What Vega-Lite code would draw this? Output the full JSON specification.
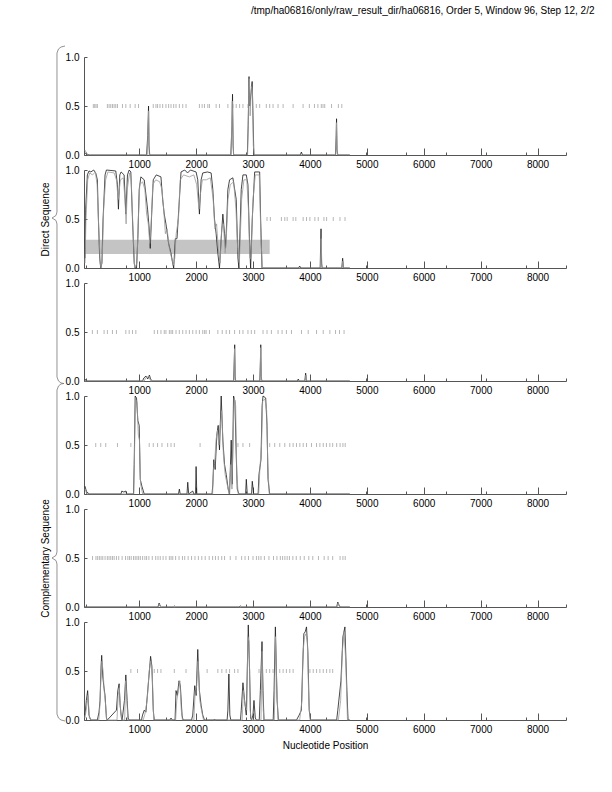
{
  "$schema": "https://vega.github.io/schema/vega-lite/v6.json",
  "padding": {"left": 40, "top": 6, "right": 5, "bottom": 5},
  "bounds": "flush",
  "spacing": 15,
  "title": {"text": "/tmp/ha06816/only/raw_result_dir/ha06816, Order 5, Window 96, Step 12, 2/2", "anchor": "end", "dx": 28, "offset": 28, "fontSize": 10, "fontWeight": "normal", "font": "Liberation Sans", "color": "#000000"},
  "config": {
    "view": {"stroke": null},
    "font": "Liberation Sans",
    "axis": {"labelFont": "Liberation Sans", "labelFontSize": 10, "labelColor": "#000000", "domainColor": "#555555", "tickColor": "#555555", "grid": false, "titleFont": "Liberation Sans", "titleFontSize": 10, "titleFontWeight": "normal", "titleColor": "#000000", "domainWidth": 1, "tickWidth": 1},
    "axisY": {"values": [0, 0.5, 1], "format": ".1f", "tickSize": -3, "labelPadding": 8, "orient": "left", "titlePadding": 15}
  },
  "datasets": {
    "shade": [{"panel": 2, "x1": 48, "x2": 3293, "y1": 0.142, "y2": 0.288}],
    "braces": [
      {"panel": 2, "i": 1, "bx": -304, "by": 2.265}, {"panel": 2, "i": 2, "bx": -374, "by": 2.255}, {"panel": 2, "i": 3, "bx": -418, "by": 2.235}, {"panel": 2, "i": 4, "bx": -445, "by": 2.194}, {"panel": 2, "i": 5, "bx": -445, "by": 0.571}, {"panel": 2, "i": 6, "bx": -462, "by": 0.536}, {"panel": 2, "i": 7, "bx": -532, "by": 0.51}, {"panel": 2, "i": 8, "bx": -462, "by": 0.485}, {"panel": 2, "i": 9, "bx": -445, "by": 0.449}, {"panel": 2, "i": 10, "bx": -445, "by": -1.112}, {"panel": 2, "i": 11, "bx": -418, "by": -1.153}, {"panel": 2, "i": 12, "bx": -374, "by": -1.173}, {"panel": 2, "i": 13, "bx": -321, "by": -1.179},
      {"panel": 5, "i": 1, "bx": -321, "by": 2.281}, {"panel": 5, "i": 2, "bx": -374, "by": 2.276}, {"panel": 5, "i": 3, "bx": -418, "by": 2.255}, {"panel": 5, "i": 4, "bx": -445, "by": 2.214}, {"panel": 5, "i": 5, "bx": -445, "by": 0.561}, {"panel": 5, "i": 6, "bx": -462, "by": 0.526}, {"panel": 5, "i": 7, "bx": -532, "by": 0.5}, {"panel": 5, "i": 8, "bx": -462, "by": 0.474}, {"panel": 5, "i": 9, "bx": -445, "by": 0.439}, {"panel": 5, "i": 10, "bx": -445, "by": -1.092}, {"panel": 5, "i": 11, "bx": -418, "by": -1.133}, {"panel": 5, "i": 12, "bx": -374, "by": -1.153}, {"panel": 5, "i": 13, "bx": -304, "by": -1.163}
    ],
    "stops": [
      {"panel":1,"pos":194},{"panel":1,"pos":218},{"panel":1,"pos":241},{"panel":1,"pos":265},{"panel":1,"pos":441},{"panel":1,"pos":471},{"panel":1,"pos":500},{"panel":1,"pos":530},{"panel":1,"pos":559},{"panel":1,"pos":588},{"panel":1,"pos":618},{"panel":1,"pos":706},{"panel":1,"pos":765},{"panel":1,"pos":841},{"panel":1,"pos":929},{"panel":1,"pos":988},{"panel":1,"pos":1247},{"panel":1,"pos":1294},{"panel":1,"pos":1323},{"panel":1,"pos":1365},{"panel":1,"pos":1412},{"panel":1,"pos":1470},{"panel":1,"pos":1517},{"panel":1,"pos":1559},{"panel":1,"pos":1606},{"panel":1,"pos":1647},{"panel":1,"pos":1706},{"panel":1,"pos":1765},{"panel":1,"pos":1823},{"panel":1,"pos":2058},{"panel":1,"pos":2106},{"panel":1,"pos":2147},{"panel":1,"pos":2206},{"panel":1,"pos":2235},{"panel":1,"pos":2352},{"panel":1,"pos":2411},{"panel":1,"pos":2558},{"panel":1,"pos":2646},{"panel":1,"pos":2705},{"panel":1,"pos":2764},{"panel":1,"pos":2823},{"panel":1,"pos":2911},{"panel":1,"pos":3058},{"panel":1,"pos":3117},{"panel":1,"pos":3234},{"panel":1,"pos":3293},{"panel":1,"pos":3352},{"panel":1,"pos":3440},{"panel":1,"pos":3529},{"panel":1,"pos":3705},{"panel":1,"pos":3880},{"panel":1,"pos":3990},{"panel":1,"pos":4080},{"panel":1,"pos":4140},{"panel":1,"pos":4200},{"panel":1,"pos":4230},{"panel":1,"pos":4260},{"panel":1,"pos":4380},{"panel":1,"pos":4500},{"panel":1,"pos":4560},
      {"panel":2,"pos":3246},{"panel":2,"pos":3305},{"panel":2,"pos":3499},{"panel":2,"pos":3558},{"panel":2,"pos":3600},{"panel":2,"pos":3705},{"panel":2,"pos":3752},{"panel":2,"pos":3881},{"panel":2,"pos":3940},{"panel":2,"pos":3999},{"panel":2,"pos":4087},{"panel":2,"pos":4146},{"panel":2,"pos":4246},{"panel":2,"pos":4293},{"panel":2,"pos":4410},{"panel":2,"pos":4528},{"panel":2,"pos":4617},
      {"panel":3,"pos":177},{"panel":3,"pos":265},{"panel":3,"pos":383},{"panel":3,"pos":441},{"panel":3,"pos":530},{"panel":3,"pos":600},{"panel":3,"pos":765},{"panel":3,"pos":824},{"panel":3,"pos":882},{"panel":3,"pos":941},{"panel":3,"pos":1265},{"panel":3,"pos":1323},{"panel":3,"pos":1382},{"panel":3,"pos":1440},{"panel":3,"pos":1470},{"panel":3,"pos":1530},{"panel":3,"pos":1560},{"panel":3,"pos":1588},{"panel":3,"pos":1647},{"panel":3,"pos":1705},{"panel":3,"pos":1765},{"panel":3,"pos":1823},{"panel":3,"pos":1882},{"panel":3,"pos":1941},{"panel":3,"pos":2000},{"panel":3,"pos":2058},{"panel":3,"pos":2117},{"panel":3,"pos":2150},{"panel":3,"pos":2176},{"panel":3,"pos":2235},{"panel":3,"pos":2382},{"panel":3,"pos":2459},{"panel":3,"pos":2529},{"panel":3,"pos":2588},{"panel":3,"pos":2676},{"panel":3,"pos":2764},{"panel":3,"pos":2823},{"panel":3,"pos":2911},{"panel":3,"pos":2970},{"panel":3,"pos":3029},{"panel":3,"pos":3176},{"panel":3,"pos":3246},{"panel":3,"pos":3323},{"panel":3,"pos":3440},{"panel":3,"pos":3511},{"panel":3,"pos":3587},{"panel":3,"pos":3676},{"panel":3,"pos":3852},{"panel":3,"pos":3970},{"panel":3,"pos":4116},{"panel":3,"pos":4234},{"panel":3,"pos":4350},{"panel":3,"pos":4450},{"panel":3,"pos":4520},{"panel":3,"pos":4600},
      {"panel":4,"pos":236},{"panel":4,"pos":324},{"panel":4,"pos":412},{"panel":4,"pos":618},{"panel":4,"pos":853},{"panel":4,"pos":1176},{"panel":4,"pos":1247},{"panel":4,"pos":1323},{"panel":4,"pos":1400},{"panel":4,"pos":1500},{"panel":4,"pos":1559},{"panel":4,"pos":1617},{"panel":4,"pos":2070},{"panel":4,"pos":2735},{"panel":4,"pos":2823},{"panel":4,"pos":2940},{"panel":4,"pos":3293},{"panel":4,"pos":3381},{"panel":4,"pos":3470},{"panel":4,"pos":3558},{"panel":4,"pos":3646},{"panel":4,"pos":3705},{"panel":4,"pos":3764},{"panel":4,"pos":3823},{"panel":4,"pos":3882},{"panel":4,"pos":3940},{"panel":4,"pos":4028},{"panel":4,"pos":4116},{"panel":4,"pos":4175},{"panel":4,"pos":4234},{"panel":4,"pos":4290},{"panel":4,"pos":4350},{"panel":4,"pos":4400},{"panel":4,"pos":4470},{"panel":4,"pos":4530},{"panel":4,"pos":4580},{"panel":4,"pos":4620},
      {"panel":5,"pos":180},{"panel":5,"pos":240},{"panel":5,"pos":270},{"panel":5,"pos":300},{"panel":5,"pos":330},{"panel":5,"pos":360},{"panel":5,"pos":400},{"panel":5,"pos":440},{"panel":5,"pos":470},{"panel":5,"pos":500},{"panel":5,"pos":530},{"panel":5,"pos":560},{"panel":5,"pos":600},{"panel":5,"pos":640},{"panel":5,"pos":700},{"panel":5,"pos":760},{"panel":5,"pos":800},{"panel":5,"pos":830},{"panel":5,"pos":860},{"panel":5,"pos":900},{"panel":5,"pos":930},{"panel":5,"pos":960},{"panel":5,"pos":990},{"panel":5,"pos":1020},{"panel":5,"pos":1060},{"panel":5,"pos":1100},{"panel":5,"pos":1130},{"panel":5,"pos":1170},{"panel":5,"pos":1230},{"panel":5,"pos":1290},{"panel":5,"pos":1330},{"panel":5,"pos":1370},{"panel":5,"pos":1420},{"panel":5,"pos":1470},{"panel":5,"pos":1530},{"panel":5,"pos":1560},{"panel":5,"pos":1590},{"panel":5,"pos":1640},{"panel":5,"pos":1700},{"panel":5,"pos":1760},{"panel":5,"pos":1800},{"panel":5,"pos":1860},{"panel":5,"pos":1920},{"panel":5,"pos":1980},{"panel":5,"pos":2040},{"panel":5,"pos":2100},{"panel":5,"pos":2160},{"panel":5,"pos":2230},{"panel":5,"pos":2290},{"panel":5,"pos":2340},{"panel":5,"pos":2390},{"panel":5,"pos":2450},{"panel":5,"pos":2500},{"panel":5,"pos":2600},{"panel":5,"pos":2700},{"panel":5,"pos":2800},{"panel":5,"pos":2860},{"panel":5,"pos":2920},{"panel":5,"pos":3000},{"panel":5,"pos":3060},{"panel":5,"pos":3100},{"panel":5,"pos":3140},{"panel":5,"pos":3200},{"panel":5,"pos":3280},{"panel":5,"pos":3360},{"panel":5,"pos":3420},{"panel":5,"pos":3480},{"panel":5,"pos":3520},{"panel":5,"pos":3560},{"panel":5,"pos":3600},{"panel":5,"pos":3640},{"panel":5,"pos":3700},{"panel":5,"pos":3760},{"panel":5,"pos":3830},{"panel":5,"pos":3900},{"panel":5,"pos":3980},{"panel":5,"pos":4050},{"panel":5,"pos":4150},{"panel":5,"pos":4250},{"panel":5,"pos":4320},{"panel":5,"pos":4400},{"panel":5,"pos":4530},{"panel":5,"pos":4580},{"panel":5,"pos":4620},
      {"panel":6,"pos":853},{"panel":6,"pos":970},{"panel":6,"pos":1265},{"panel":6,"pos":1323},{"panel":6,"pos":1382},{"panel":6,"pos":1617},{"panel":6,"pos":1823},{"panel":6,"pos":2194},{"panel":6,"pos":2382},{"panel":6,"pos":2452},{"panel":6,"pos":2529},{"panel":6,"pos":2588},{"panel":6,"pos":2676},{"panel":6,"pos":2735},{"panel":6,"pos":2940},{"panel":6,"pos":3105},{"panel":6,"pos":3158},{"panel":6,"pos":3234},{"panel":6,"pos":3293},{"panel":6,"pos":3352},{"panel":6,"pos":3470},{"panel":6,"pos":3529},{"panel":6,"pos":3587},{"panel":6,"pos":3646},{"panel":6,"pos":3705},{"panel":6,"pos":4000},{"panel":6,"pos":4058},{"panel":6,"pos":4117},{"panel":6,"pos":4175},{"panel":6,"pos":4234},{"panel":6,"pos":4293},{"panel":6,"pos":4350},{"panel":6,"pos":4400}
    ],
    "curves": [
      {"panel":1,"series":"a","pos":48,"value":0.02},{"panel":1,"series":"a","pos":80,"value":0.01},{"panel":1,"series":"a","pos":120,"value":0},{"panel":1,"series":"a","pos":1130,"value":0},{"panel":1,"series":"a","pos":1150,"value":0.2},{"panel":1,"series":"a","pos":1164,"value":0.5},{"panel":1,"series":"a","pos":1172,"value":0.1},{"panel":1,"series":"a","pos":1185,"value":0},{"panel":1,"series":"a","pos":2610,"value":0},{"panel":1,"series":"a","pos":2630,"value":0.3},{"panel":1,"series":"a","pos":2640,"value":0.62},{"panel":1,"series":"a","pos":2650,"value":0.1},{"panel":1,"series":"a","pos":2660,"value":0},{"panel":1,"series":"a","pos":2900,"value":0},{"panel":1,"series":"a","pos":2915,"value":0.3},{"panel":1,"series":"a","pos":2930,"value":0.8},{"panel":1,"series":"a","pos":2945,"value":0.5},{"panel":1,"series":"a","pos":2960,"value":0.6},{"panel":1,"series":"a","pos":2985,"value":0.75},{"panel":1,"series":"a","pos":3000,"value":0.4},{"panel":1,"series":"a","pos":3015,"value":0},{"panel":1,"series":"a","pos":3830,"value":0},{"panel":1,"series":"a","pos":3850,"value":0.03},{"panel":1,"series":"a","pos":3870,"value":0},{"panel":1,"series":"a","pos":4450,"value":0},{"panel":1,"series":"a","pos":4462,"value":0.2},{"panel":1,"series":"a","pos":4468,"value":0.37},{"panel":1,"series":"a","pos":4476,"value":0.05},{"panel":1,"series":"a","pos":4490,"value":0},{"panel":1,"series":"a","pos":4700,"value":0},
      {"panel":1,"series":"b","pos":48,"value":0.05},{"panel":1,"series":"b","pos":90,"value":0},{"panel":1,"series":"b","pos":1140,"value":0},{"panel":1,"series":"b","pos":1158,"value":0.3},{"panel":1,"series":"b","pos":1166,"value":0.45},{"panel":1,"series":"b","pos":1176,"value":0},{"panel":1,"series":"b","pos":2615,"value":0},{"panel":1,"series":"b","pos":2635,"value":0.55},{"panel":1,"series":"b","pos":2648,"value":0.2},{"panel":1,"series":"b","pos":2658,"value":0},{"panel":1,"series":"b","pos":2905,"value":0},{"panel":1,"series":"b","pos":2925,"value":0.6},{"panel":1,"series":"b","pos":2935,"value":0.78},{"panel":1,"series":"b","pos":2950,"value":0.4},{"panel":1,"series":"b","pos":2970,"value":0.7},{"panel":1,"series":"b","pos":2990,"value":0.65},{"panel":1,"series":"b","pos":3005,"value":0.1},{"panel":1,"series":"b","pos":3020,"value":0},{"panel":1,"series":"b","pos":4455,"value":0},{"panel":1,"series":"b","pos":4466,"value":0.33},{"panel":1,"series":"b","pos":4474,"value":0.1},{"panel":1,"series":"b","pos":4485,"value":0},{"panel":1,"series":"b","pos":4700,"value":0},
      {"panel":2,"series":"a","pos":48,"value":0.1},{"panel":2,"series":"a","pos":59,"value":0.6},{"panel":2,"series":"a","pos":89,"value":0.95},{"panel":2,"series":"a","pos":118,"value":0.99},{"panel":2,"series":"a","pos":150,"value":0.98},{"panel":2,"series":"a","pos":200,"value":1.0},{"panel":2,"series":"a","pos":236,"value":0.97},{"panel":2,"series":"a","pos":265,"value":0.9},{"panel":2,"series":"a","pos":283,"value":0.5},{"panel":2,"series":"a","pos":306,"value":0.1},{"panel":2,"series":"a","pos":324,"value":0},{"panel":2,"series":"a","pos":345,"value":0.05},{"panel":2,"series":"a","pos":365,"value":0.5},{"panel":2,"series":"a","pos":400,"value":0.95},{"panel":2,"series":"a","pos":424,"value":1.0},{"panel":2,"series":"a","pos":588,"value":0.99},{"panel":2,"series":"a","pos":618,"value":0.85},{"panel":2,"series":"a","pos":635,"value":0.6},{"panel":2,"series":"a","pos":659,"value":0.95},{"panel":2,"series":"a","pos":682,"value":0.98},{"panel":2,"series":"a","pos":735,"value":0.95},{"panel":2,"series":"a","pos":765,"value":0.55},{"panel":2,"series":"a","pos":794,"value":0.95},{"panel":2,"series":"a","pos":824,"value":1.0},{"panel":2,"series":"a","pos":853,"value":0.98},{"panel":2,"series":"a","pos":882,"value":0.5},{"panel":2,"series":"a","pos":912,"value":0.05},{"panel":2,"series":"a","pos":929,"value":0},{"panel":2,"series":"a","pos":953,"value":0},{"panel":2,"series":"a","pos":976,"value":0.3},{"panel":2,"series":"a","pos":1000,"value":0.8},{"panel":2,"series":"a","pos":1029,"value":0.93},{"panel":2,"series":"a","pos":1088,"value":0.9},{"panel":2,"series":"a","pos":1118,"value":0.75},{"panel":2,"series":"a","pos":1147,"value":0.6},{"panel":2,"series":"a","pos":1176,"value":0.4},{"panel":2,"series":"a","pos":1194,"value":0.2},{"panel":2,"series":"a","pos":1223,"value":0.6},{"panel":2,"series":"a","pos":1247,"value":0.9},{"panel":2,"series":"a","pos":1300,"value":0.95},{"panel":2,"series":"a","pos":1382,"value":0.93},{"panel":2,"series":"a","pos":1412,"value":0.7},{"panel":2,"series":"a","pos":1440,"value":0.55},{"panel":2,"series":"a","pos":1470,"value":0.45},{"panel":2,"series":"a","pos":1517,"value":0.25},{"panel":2,"series":"a","pos":1559,"value":0.15},{"panel":2,"series":"a","pos":1588,"value":0.05},{"panel":2,"series":"a","pos":1606,"value":0},{"panel":2,"series":"a","pos":1635,"value":0.3},{"panel":2,"series":"a","pos":1664,"value":0.3},{"panel":2,"series":"a","pos":1706,"value":0.7},{"panel":2,"series":"a","pos":1735,"value":0.98},{"panel":2,"series":"a","pos":1800,"value":1.0},{"panel":2,"series":"a","pos":1850,"value":0.97},{"panel":2,"series":"a","pos":1900,"value":1.0},{"panel":2,"series":"a","pos":2000,"value":0.98},{"panel":2,"series":"a","pos":2029,"value":0.9},{"panel":2,"series":"a","pos":2058,"value":0.55},{"panel":2,"series":"a","pos":2088,"value":0.9},{"panel":2,"series":"a","pos":2117,"value":0.97},{"panel":2,"series":"a","pos":2200,"value":0.98},{"panel":2,"series":"a","pos":2264,"value":0.97},{"panel":2,"series":"a","pos":2294,"value":0.8},{"panel":2,"series":"a","pos":2323,"value":0.5},{"panel":2,"series":"a","pos":2352,"value":0.35},{"panel":2,"series":"a","pos":2382,"value":0.15},{"panel":2,"series":"a","pos":2411,"value":0},{"panel":2,"series":"a","pos":2441,"value":0.3},{"panel":2,"series":"a","pos":2470,"value":0.55},{"panel":2,"series":"a","pos":2500,"value":0.35},{"panel":2,"series":"a","pos":2517,"value":0.2},{"panel":2,"series":"a","pos":2540,"value":0.5},{"panel":2,"series":"a","pos":2558,"value":0.8},{"panel":2,"series":"a","pos":2588,"value":0.9},{"panel":2,"series":"a","pos":2646,"value":0.92},{"panel":2,"series":"a","pos":2705,"value":0.7},{"panel":2,"series":"a","pos":2735,"value":0.1},{"panel":2,"series":"a","pos":2752,"value":0},{"panel":2,"series":"a","pos":2793,"value":0.8},{"panel":2,"series":"a","pos":2823,"value":0.95},{"panel":2,"series":"a","pos":2882,"value":0.95},{"panel":2,"series":"a","pos":2911,"value":0.85},{"panel":2,"series":"a","pos":2940,"value":0.25},{"panel":2,"series":"a","pos":2958,"value":0},{"panel":2,"series":"a","pos":2987,"value":0.5},{"panel":2,"series":"a","pos":3029,"value":0.98},{"panel":2,"series":"a","pos":3117,"value":0.98},{"panel":2,"series":"a","pos":3134,"value":0.5},{"panel":2,"series":"a","pos":3158,"value":0},{"panel":2,"series":"a","pos":3800,"value":0},{"panel":2,"series":"a","pos":3820,"value":0.02},{"panel":2,"series":"a","pos":3840,"value":0},{"panel":2,"series":"a","pos":4180,"value":0},{"panel":2,"series":"a","pos":4195,"value":0.4},{"panel":2,"series":"a","pos":4205,"value":0.05},{"panel":2,"series":"a","pos":4215,"value":0},{"panel":2,"series":"a","pos":4560,"value":0},{"panel":2,"series":"a","pos":4575,"value":0.1},{"panel":2,"series":"a","pos":4590,"value":0},{"panel":2,"series":"a","pos":4700,"value":0},
      {"panel":2,"series":"b","pos":48,"value":0.05},{"panel":2,"series":"b","pos":65,"value":0.5},{"panel":2,"series":"b","pos":95,"value":0.9},{"panel":2,"series":"b","pos":130,"value":0.97},{"panel":2,"series":"b","pos":180,"value":0.95},{"panel":2,"series":"b","pos":230,"value":0.98},{"panel":2,"series":"b","pos":260,"value":0.85},{"panel":2,"series":"b","pos":290,"value":0.4},{"panel":2,"series":"b","pos":315,"value":0.05},{"panel":2,"series":"b","pos":330,"value":0},{"panel":2,"series":"b","pos":350,"value":0.1},{"panel":2,"series":"b","pos":375,"value":0.6},{"panel":2,"series":"b","pos":410,"value":0.9},{"panel":2,"series":"b","pos":450,"value":0.98},{"panel":2,"series":"b","pos":560,"value":0.97},{"panel":2,"series":"b","pos":600,"value":0.9},{"panel":2,"series":"b","pos":630,"value":0.7},{"panel":2,"series":"b","pos":650,"value":0.8},{"panel":2,"series":"b","pos":670,"value":0.9},{"panel":2,"series":"b","pos":720,"value":0.92},{"panel":2,"series":"b","pos":750,"value":0.7},{"panel":2,"series":"b","pos":770,"value":0.45},{"panel":2,"series":"b","pos":790,"value":0.8},{"panel":2,"series":"b","pos":830,"value":0.97},{"panel":2,"series":"b","pos":860,"value":0.9},{"panel":2,"series":"b","pos":890,"value":0.4},{"panel":2,"series":"b","pos":920,"value":0},{"panel":2,"series":"b","pos":960,"value":0.05},{"panel":2,"series":"b","pos":985,"value":0.5},{"panel":2,"series":"b","pos":1010,"value":0.85},{"panel":2,"series":"b","pos":1060,"value":0.88},{"panel":2,"series":"b","pos":1100,"value":0.8},{"panel":2,"series":"b","pos":1130,"value":0.55},{"panel":2,"series":"b","pos":1160,"value":0.45},{"panel":2,"series":"b","pos":1185,"value":0.25},{"panel":2,"series":"b","pos":1210,"value":0.45},{"panel":2,"series":"b","pos":1240,"value":0.85},{"panel":2,"series":"b","pos":1290,"value":0.9},{"panel":2,"series":"b","pos":1360,"value":0.88},{"panel":2,"series":"b","pos":1400,"value":0.8},{"panel":2,"series":"b","pos":1430,"value":0.6},{"panel":2,"series":"b","pos":1460,"value":0.35},{"panel":2,"series":"b","pos":1490,"value":0.4},{"panel":2,"series":"b","pos":1530,"value":0.2},{"panel":2,"series":"b","pos":1570,"value":0.1},{"panel":2,"series":"b","pos":1600,"value":0.03},{"panel":2,"series":"b","pos":1625,"value":0.1},{"panel":2,"series":"b","pos":1650,"value":0.35},{"panel":2,"series":"b","pos":1690,"value":0.5},{"panel":2,"series":"b","pos":1720,"value":0.9},{"panel":2,"series":"b","pos":1780,"value":0.95},{"panel":2,"series":"b","pos":1880,"value":0.93},{"panel":2,"series":"b","pos":1960,"value":0.95},{"panel":2,"series":"b","pos":2010,"value":0.85},{"panel":2,"series":"b","pos":2050,"value":0.6},{"panel":2,"series":"b","pos":2075,"value":0.75},{"panel":2,"series":"b","pos":2110,"value":0.9},{"panel":2,"series":"b","pos":2180,"value":0.9},{"panel":2,"series":"b","pos":2250,"value":0.92},{"panel":2,"series":"b","pos":2300,"value":0.7},{"panel":2,"series":"b","pos":2330,"value":0.4},{"panel":2,"series":"b","pos":2360,"value":0.45},{"panel":2,"series":"b","pos":2390,"value":0.2},{"panel":2,"series":"b","pos":2420,"value":0.05},{"panel":2,"series":"b","pos":2450,"value":0.4},{"panel":2,"series":"b","pos":2480,"value":0.45},{"panel":2,"series":"b","pos":2510,"value":0.15},{"panel":2,"series":"b","pos":2530,"value":0.3},{"panel":2,"series":"b","pos":2560,"value":0.7},{"panel":2,"series":"b","pos":2600,"value":0.85},{"panel":2,"series":"b","pos":2660,"value":0.88},{"panel":2,"series":"b","pos":2700,"value":0.6},{"panel":2,"series":"b","pos":2730,"value":0.2},{"panel":2,"series":"b","pos":2760,"value":0.05},{"panel":2,"series":"b","pos":2800,"value":0.7},{"panel":2,"series":"b","pos":2840,"value":0.9},{"panel":2,"series":"b","pos":2890,"value":0.9},{"panel":2,"series":"b","pos":2920,"value":0.6},{"panel":2,"series":"b","pos":2945,"value":0.1},{"panel":2,"series":"b","pos":2965,"value":0.1},{"panel":2,"series":"b","pos":3000,"value":0.7},{"panel":2,"series":"b","pos":3040,"value":0.95},{"panel":2,"series":"b","pos":3110,"value":0.95},{"panel":2,"series":"b","pos":3140,"value":0.3},{"panel":2,"series":"b","pos":3165,"value":0},{"panel":2,"series":"b","pos":4185,"value":0},{"panel":2,"series":"b","pos":4198,"value":0.3},{"panel":2,"series":"b","pos":4210,"value":0},{"panel":2,"series":"b","pos":4565,"value":0},{"panel":2,"series":"b","pos":4578,"value":0.07},{"panel":2,"series":"b","pos":4592,"value":0},{"panel":2,"series":"b","pos":4700,"value":0},
      {"panel":3,"series":"a","pos":48,"value":0.02},{"panel":3,"series":"a","pos":70,"value":0},{"panel":3,"series":"a","pos":1060,"value":0},{"panel":3,"series":"a","pos":1080,"value":0.03},{"panel":3,"series":"a","pos":1120,"value":0.05},{"panel":3,"series":"a","pos":1150,"value":0.02},{"panel":3,"series":"a","pos":1180,"value":0.06},{"panel":3,"series":"a","pos":1200,"value":0.02},{"panel":3,"series":"a","pos":1230,"value":0},{"panel":3,"series":"a","pos":2660,"value":0},{"panel":3,"series":"a","pos":2670,"value":0.2},{"panel":3,"series":"a","pos":2678,"value":0.37},{"panel":3,"series":"a","pos":2686,"value":0.05},{"panel":3,"series":"a","pos":2695,"value":0},{"panel":3,"series":"a","pos":3120,"value":0},{"panel":3,"series":"a","pos":3130,"value":0.2},{"panel":3,"series":"a","pos":3136,"value":0.37},{"panel":3,"series":"a","pos":3144,"value":0.05},{"panel":3,"series":"a","pos":3155,"value":0},{"panel":3,"series":"a","pos":3780,"value":0},{"panel":3,"series":"a","pos":3795,"value":0.02},{"panel":3,"series":"a","pos":3810,"value":0},{"panel":3,"series":"a","pos":3910,"value":0},{"panel":3,"series":"a","pos":3925,"value":0.08},{"panel":3,"series":"a","pos":3940,"value":0},{"panel":3,"series":"a","pos":4700,"value":0},
      {"panel":3,"series":"b","pos":48,"value":0},{"panel":3,"series":"b","pos":1090,"value":0},{"panel":3,"series":"b","pos":1110,"value":0.03},{"panel":3,"series":"b","pos":1140,"value":0.04},{"panel":3,"series":"b","pos":1170,"value":0.05},{"panel":3,"series":"b","pos":1200,"value":0},{"panel":3,"series":"b","pos":2665,"value":0},{"panel":3,"series":"b","pos":2676,"value":0.33},{"panel":3,"series":"b","pos":2690,"value":0},{"panel":3,"series":"b","pos":3125,"value":0},{"panel":3,"series":"b","pos":3134,"value":0.34},{"panel":3,"series":"b","pos":3150,"value":0},{"panel":3,"series":"b","pos":3915,"value":0},{"panel":3,"series":"b","pos":3930,"value":0.06},{"panel":3,"series":"b","pos":3945,"value":0},{"panel":3,"series":"b","pos":4700,"value":0},
      {"panel":4,"series":"a","pos":48,"value":0.08},{"panel":4,"series":"a","pos":70,"value":0.03},{"panel":4,"series":"a","pos":89,"value":0.02},{"panel":4,"series":"a","pos":110,"value":0},{"panel":4,"series":"a","pos":680,"value":0},{"panel":4,"series":"a","pos":694,"value":0.03},{"panel":4,"series":"a","pos":730,"value":0.02},{"panel":4,"series":"a","pos":765,"value":0.03},{"panel":4,"series":"a","pos":780,"value":0},{"panel":4,"series":"a","pos":900,"value":0},{"panel":4,"series":"a","pos":912,"value":0.3},{"panel":4,"series":"a","pos":929,"value":1.0},{"panel":4,"series":"a","pos":953,"value":0.98},{"panel":4,"series":"a","pos":976,"value":0.75},{"panel":4,"series":"a","pos":1000,"value":0.7},{"panel":4,"series":"a","pos":1018,"value":0.15},{"panel":4,"series":"a","pos":1047,"value":0.08},{"panel":4,"series":"a","pos":1088,"value":0},{"panel":4,"series":"a","pos":1690,"value":0},{"panel":4,"series":"a","pos":1706,"value":0.05},{"panel":4,"series":"a","pos":1720,"value":0},{"panel":4,"series":"a","pos":1840,"value":0},{"panel":4,"series":"a","pos":1853,"value":0.12},{"panel":4,"series":"a","pos":1870,"value":0},{"panel":4,"series":"a","pos":1941,"value":0.03},{"panel":4,"series":"a","pos":1960,"value":0},{"panel":4,"series":"a","pos":1990,"value":0},{"panel":4,"series":"a","pos":2000,"value":0.28},{"panel":4,"series":"a","pos":2012,"value":0},{"panel":4,"series":"a","pos":2280,"value":0},{"panel":4,"series":"a","pos":2294,"value":0.1},{"panel":4,"series":"a","pos":2311,"value":0.35},{"panel":4,"series":"a","pos":2335,"value":0.25},{"panel":4,"series":"a","pos":2364,"value":0.6},{"panel":4,"series":"a","pos":2388,"value":0.7},{"panel":4,"series":"a","pos":2411,"value":0.45},{"panel":4,"series":"a","pos":2441,"value":1.0},{"panel":4,"series":"a","pos":2470,"value":0.55},{"panel":4,"series":"a","pos":2500,"value":0.3},{"panel":4,"series":"a","pos":2529,"value":0.2},{"panel":4,"series":"a","pos":2564,"value":0.05},{"panel":4,"series":"a","pos":2588,"value":0},{"panel":4,"series":"a","pos":2617,"value":0.55},{"panel":4,"series":"a","pos":2635,"value":0.1},{"panel":4,"series":"a","pos":2658,"value":1.0},{"panel":4,"series":"a","pos":2682,"value":0.95},{"panel":4,"series":"a","pos":2705,"value":0.4},{"panel":4,"series":"a","pos":2723,"value":0.05},{"panel":4,"series":"a","pos":2752,"value":0},{"panel":4,"series":"a","pos":2870,"value":0},{"panel":4,"series":"a","pos":2882,"value":0.15},{"panel":4,"series":"a","pos":2899,"value":0},{"panel":4,"series":"a","pos":2975,"value":0},{"panel":4,"series":"a","pos":2987,"value":0.13},{"panel":4,"series":"a","pos":3011,"value":0},{"panel":4,"series":"a","pos":3090,"value":0},{"panel":4,"series":"a","pos":3105,"value":0.2},{"panel":4,"series":"a","pos":3140,"value":0.35},{"panel":4,"series":"a","pos":3160,"value":0.9},{"panel":4,"series":"a","pos":3176,"value":1.0},{"panel":4,"series":"a","pos":3223,"value":0.98},{"panel":4,"series":"a","pos":3246,"value":0.7},{"panel":4,"series":"a","pos":3264,"value":0.15},{"panel":4,"series":"a","pos":3293,"value":0},{"panel":4,"series":"a","pos":4700,"value":0},
      {"panel":4,"series":"b","pos":48,"value":0.05},{"panel":4,"series":"b","pos":80,"value":0},{"panel":4,"series":"b","pos":905,"value":0},{"panel":4,"series":"b","pos":920,"value":0.5},{"panel":4,"series":"b","pos":935,"value":0.95},{"panel":4,"series":"b","pos":960,"value":0.95},{"panel":4,"series":"b","pos":985,"value":0.6},{"panel":4,"series":"b","pos":1005,"value":0.55},{"panel":4,"series":"b","pos":1025,"value":0.1},{"panel":4,"series":"b","pos":1060,"value":0},{"panel":4,"series":"b","pos":2290,"value":0},{"panel":4,"series":"b","pos":2305,"value":0.25},{"panel":4,"series":"b","pos":2325,"value":0.3},{"panel":4,"series":"b","pos":2350,"value":0.55},{"panel":4,"series":"b","pos":2375,"value":0.65},{"panel":4,"series":"b","pos":2400,"value":0.5},{"panel":4,"series":"b","pos":2425,"value":0.7},{"panel":4,"series":"b","pos":2450,"value":0.85},{"panel":4,"series":"b","pos":2480,"value":0.4},{"panel":4,"series":"b","pos":2510,"value":0.2},{"panel":4,"series":"b","pos":2545,"value":0.1},{"panel":4,"series":"b","pos":2580,"value":0},{"panel":4,"series":"b","pos":2610,"value":0.3},{"panel":4,"series":"b","pos":2630,"value":0.05},{"panel":4,"series":"b","pos":2650,"value":0.6},{"panel":4,"series":"b","pos":2670,"value":0.98},{"panel":4,"series":"b","pos":2695,"value":0.9},{"panel":4,"series":"b","pos":2715,"value":0.2},{"panel":4,"series":"b","pos":2740,"value":0},{"panel":4,"series":"b","pos":3100,"value":0},{"panel":4,"series":"b","pos":3120,"value":0.25},{"panel":4,"series":"b","pos":3150,"value":0.5},{"panel":4,"series":"b","pos":3170,"value":0.95},{"panel":4,"series":"b","pos":3210,"value":0.97},{"panel":4,"series":"b","pos":3240,"value":0.85},{"panel":4,"series":"b","pos":3260,"value":0.3},{"panel":4,"series":"b","pos":3285,"value":0},{"panel":4,"series":"b","pos":4700,"value":0},
      {"panel":5,"series":"a","pos":48,"value":0},{"panel":5,"series":"a","pos":1330,"value":0},{"panel":5,"series":"a","pos":1350,"value":0.04},{"panel":5,"series":"a","pos":1370,"value":0.01},{"panel":5,"series":"a","pos":1390,"value":0},{"panel":5,"series":"a","pos":1600,"value":0},{"panel":5,"series":"a","pos":1620,"value":0.01},{"panel":5,"series":"a","pos":1640,"value":0},{"panel":5,"series":"a","pos":2750,"value":0},{"panel":5,"series":"a","pos":2780,"value":0.01},{"panel":5,"series":"a","pos":2800,"value":0},{"panel":5,"series":"a","pos":4470,"value":0},{"panel":5,"series":"a","pos":4490,"value":0.05},{"panel":5,"series":"a","pos":4510,"value":0.02},{"panel":5,"series":"a","pos":4530,"value":0},{"panel":5,"series":"a","pos":4700,"value":0},
      {"panel":5,"series":"b","pos":48,"value":0},{"panel":5,"series":"b","pos":1340,"value":0},{"panel":5,"series":"b","pos":1355,"value":0.03},{"panel":5,"series":"b","pos":1375,"value":0},{"panel":5,"series":"b","pos":4475,"value":0},{"panel":5,"series":"b","pos":4495,"value":0.04},{"panel":5,"series":"b","pos":4520,"value":0},{"panel":5,"series":"b","pos":4700,"value":0},
      {"panel":6,"series":"a","pos":48,"value":0.05},{"panel":6,"series":"a","pos":71,"value":0.2},{"panel":6,"series":"a","pos":94,"value":0.3},{"panel":6,"series":"a","pos":118,"value":0.05},{"panel":6,"series":"a","pos":147,"value":0},{"panel":6,"series":"a","pos":265,"value":0},{"panel":6,"series":"a","pos":294,"value":0.08},{"panel":6,"series":"a","pos":312,"value":0.2},{"panel":6,"series":"a","pos":330,"value":0.55},{"panel":6,"series":"a","pos":341,"value":0.66},{"panel":6,"series":"a","pos":359,"value":0.45},{"panel":6,"series":"a","pos":377,"value":0.35},{"panel":6,"series":"a","pos":400,"value":0.25},{"panel":6,"series":"a","pos":424,"value":0.02},{"panel":6,"series":"a","pos":440,"value":0},{"panel":6,"series":"a","pos":600,"value":0.1},{"panel":6,"series":"a","pos":624,"value":0.3},{"panel":6,"series":"a","pos":647,"value":0.37},{"panel":6,"series":"a","pos":665,"value":0.15},{"panel":6,"series":"a","pos":688,"value":0.02},{"panel":6,"series":"a","pos":700,"value":0},{"panel":6,"series":"a","pos":741,"value":0.2},{"panel":6,"series":"a","pos":765,"value":0.46},{"panel":6,"series":"a","pos":788,"value":0.2},{"panel":6,"series":"a","pos":806,"value":0.02},{"panel":6,"series":"a","pos":820,"value":0},{"panel":6,"series":"a","pos":1040,"value":0},{"panel":6,"series":"a","pos":1059,"value":0.05},{"panel":6,"series":"a","pos":1088,"value":0.1},{"panel":6,"series":"a","pos":1118,"value":0.08},{"panel":6,"series":"a","pos":1165,"value":0.4},{"panel":6,"series":"a","pos":1200,"value":0.65},{"panel":6,"series":"a","pos":1223,"value":0.55},{"panel":6,"series":"a","pos":1247,"value":0.1},{"panel":6,"series":"a","pos":1265,"value":0},{"panel":6,"series":"a","pos":1540,"value":0},{"panel":6,"series":"a","pos":1559,"value":0.02},{"panel":6,"series":"a","pos":1580,"value":0},{"panel":6,"series":"a","pos":1630,"value":0},{"panel":6,"series":"a","pos":1647,"value":0.3},{"panel":6,"series":"a","pos":1670,"value":0.25},{"panel":6,"series":"a","pos":1700,"value":0.4},{"panel":6,"series":"a","pos":1723,"value":0.35},{"panel":6,"series":"a","pos":1753,"value":0.05},{"panel":6,"series":"a","pos":1770,"value":0},{"panel":6,"series":"a","pos":1920,"value":0},{"panel":6,"series":"a","pos":1941,"value":0.05},{"panel":6,"series":"a","pos":1976,"value":0.35},{"panel":6,"series":"a","pos":2000,"value":0.25},{"panel":6,"series":"a","pos":2029,"value":0.72},{"panel":6,"series":"a","pos":2058,"value":0.3},{"panel":6,"series":"a","pos":2088,"value":0.15},{"panel":6,"series":"a","pos":2117,"value":0.05},{"panel":6,"series":"a","pos":2147,"value":0},{"panel":6,"series":"a","pos":2310,"value":0},{"panel":6,"series":"a","pos":2323,"value":0.01},{"panel":6,"series":"a","pos":2340,"value":0},{"panel":6,"series":"a","pos":2545,"value":0},{"panel":6,"series":"a","pos":2558,"value":0.1},{"panel":6,"series":"a","pos":2576,"value":0.47},{"panel":6,"series":"a","pos":2593,"value":0.05},{"panel":6,"series":"a","pos":2610,"value":0},{"panel":6,"series":"a","pos":2780,"value":0},{"panel":6,"series":"a","pos":2793,"value":0.1},{"panel":6,"series":"a","pos":2823,"value":0.38},{"panel":6,"series":"a","pos":2852,"value":0.2},{"panel":6,"series":"a","pos":2882,"value":0.05},{"panel":6,"series":"a","pos":2899,"value":0.5},{"panel":6,"series":"a","pos":2917,"value":0.97},{"panel":6,"series":"a","pos":2940,"value":0.5},{"panel":6,"series":"a","pos":2958,"value":0.02},{"panel":6,"series":"a","pos":2975,"value":0},{"panel":6,"series":"a","pos":2999,"value":0.05},{"panel":6,"series":"a","pos":3017,"value":0.2},{"panel":6,"series":"a","pos":3040,"value":0.02},{"panel":6,"series":"a","pos":3060,"value":0},{"panel":6,"series":"a","pos":3110,"value":0},{"panel":6,"series":"a","pos":3129,"value":0.3},{"panel":6,"series":"a","pos":3158,"value":0.8},{"panel":6,"series":"a","pos":3176,"value":0.3},{"panel":6,"series":"a","pos":3193,"value":0},{"panel":6,"series":"a","pos":3355,"value":0},{"panel":6,"series":"a","pos":3370,"value":0.3},{"panel":6,"series":"a","pos":3393,"value":0.95},{"panel":6,"series":"a","pos":3423,"value":0.2},{"panel":6,"series":"a","pos":3446,"value":0},{"panel":6,"series":"a","pos":3764,"value":0},{"panel":6,"series":"a","pos":3811,"value":0.05},{"panel":6,"series":"a","pos":3850,"value":0.1},{"panel":6,"series":"a","pos":3870,"value":0.5},{"panel":6,"series":"a","pos":3893,"value":0.88},{"panel":6,"series":"a","pos":3917,"value":0.9},{"panel":6,"series":"a","pos":3940,"value":0.95},{"panel":6,"series":"a","pos":3964,"value":0.7},{"panel":6,"series":"a","pos":3987,"value":0.1},{"panel":6,"series":"a","pos":4011,"value":0},{"panel":6,"series":"a","pos":4470,"value":0},{"panel":6,"series":"a","pos":4490,"value":0.1},{"panel":6,"series":"a","pos":4545,"value":0.4},{"panel":6,"series":"a","pos":4580,"value":0.85},{"panel":6,"series":"a","pos":4615,"value":0.95},{"panel":6,"series":"a","pos":4650,"value":0.3},{"panel":6,"series":"a","pos":4670,"value":0},{"panel":6,"series":"a","pos":4700,"value":0},
      {"panel":6,"series":"b","pos":48,"value":0.02},{"panel":6,"series":"b","pos":80,"value":0.15},{"panel":6,"series":"b","pos":100,"value":0.25},{"panel":6,"series":"b","pos":125,"value":0.02},{"panel":6,"series":"b","pos":150,"value":0},{"panel":6,"series":"b","pos":290,"value":0},{"panel":6,"series":"b","pos":310,"value":0.15},{"panel":6,"series":"b","pos":325,"value":0.4},{"panel":6,"series":"b","pos":345,"value":0.6},{"panel":6,"series":"b","pos":365,"value":0.5},{"panel":6,"series":"b","pos":385,"value":0.3},{"panel":6,"series":"b","pos":410,"value":0.15},{"panel":6,"series":"b","pos":430,"value":0},{"panel":6,"series":"b","pos":610,"value":0},{"panel":6,"series":"b","pos":630,"value":0.25},{"panel":6,"series":"b","pos":650,"value":0.33},{"panel":6,"series":"b","pos":675,"value":0.08},{"panel":6,"series":"b","pos":700,"value":0},{"panel":6,"series":"b","pos":745,"value":0},{"panel":6,"series":"b","pos":760,"value":0.4},{"panel":6,"series":"b","pos":775,"value":0.3},{"panel":6,"series":"b","pos":800,"value":0},{"panel":6,"series":"b","pos":1070,"value":0},{"panel":6,"series":"b","pos":1100,"value":0.06},{"panel":6,"series":"b","pos":1140,"value":0.2},{"panel":6,"series":"b","pos":1175,"value":0.5},{"panel":6,"series":"b","pos":1205,"value":0.6},{"panel":6,"series":"b","pos":1230,"value":0.45},{"panel":6,"series":"b","pos":1255,"value":0},{"panel":6,"series":"b","pos":1640,"value":0},{"panel":6,"series":"b","pos":1660,"value":0.2},{"panel":6,"series":"b","pos":1690,"value":0.3},{"panel":6,"series":"b","pos":1715,"value":0.4},{"panel":6,"series":"b","pos":1740,"value":0.1},{"panel":6,"series":"b","pos":1760,"value":0},{"panel":6,"series":"b","pos":1960,"value":0},{"panel":6,"series":"b","pos":1985,"value":0.3},{"panel":6,"series":"b","pos":2010,"value":0.35},{"panel":6,"series":"b","pos":2035,"value":0.6},{"panel":6,"series":"b","pos":2065,"value":0.2},{"panel":6,"series":"b","pos":2095,"value":0.1},{"panel":6,"series":"b","pos":2130,"value":0},{"panel":6,"series":"b","pos":2810,"value":0},{"panel":6,"series":"b","pos":2830,"value":0.3},{"panel":6,"series":"b","pos":2860,"value":0.15},{"panel":6,"series":"b","pos":2890,"value":0.1},{"panel":6,"series":"b","pos":2910,"value":0.85},{"panel":6,"series":"b","pos":2930,"value":0.8},{"panel":6,"series":"b","pos":2950,"value":0.1},{"panel":6,"series":"b","pos":2970,"value":0},{"panel":6,"series":"b","pos":3140,"value":0},{"panel":6,"series":"b","pos":3160,"value":0.7},{"panel":6,"series":"b","pos":3180,"value":0.1},{"panel":6,"series":"b","pos":3195,"value":0},{"panel":6,"series":"b","pos":3375,"value":0},{"panel":6,"series":"b","pos":3395,"value":0.85},{"panel":6,"series":"b","pos":3415,"value":0.4},{"panel":6,"series":"b","pos":3440,"value":0},{"panel":6,"series":"b","pos":3820,"value":0},{"panel":6,"series":"b","pos":3860,"value":0.2},{"panel":6,"series":"b","pos":3880,"value":0.7},{"panel":6,"series":"b","pos":3905,"value":0.85},{"panel":6,"series":"b","pos":3930,"value":0.88},{"panel":6,"series":"b","pos":3955,"value":0.8},{"panel":6,"series":"b","pos":3980,"value":0.2},{"panel":6,"series":"b","pos":4005,"value":0},{"panel":6,"series":"b","pos":4500,"value":0},{"panel":6,"series":"b","pos":4540,"value":0.2},{"panel":6,"series":"b","pos":4570,"value":0.7},{"panel":6,"series":"b","pos":4600,"value":0.9},{"panel":6,"series":"b","pos":4630,"value":0.6},{"panel":6,"series":"b","pos":4660,"value":0},{"panel":6,"series":"b","pos":4700,"value":0}
    ]
  },
  "vconcat": [
    {
      "width": 482, "height": 98,
      "layer": [
        {"data": {"name": "stops"}, "transform": [{"filter": "datum.panel == 1"}], "mark": {"type": "tick", "orient": "vertical", "color": "#999999", "size": 4, "thickness": 1},
         "encoding": {"x": {"field": "pos", "type": "quantitative", "scale": {"domain": [30, 8500], "nice": false, "zero": false}, "axis": {"values": [1000,2000,3000,4000,5000,6000,7000,8000], "format": "d", "tickSize": -7, "labelPadding": 11, "labelOverlap": false, "labelFlush": false, "title": null, "orient": "bottom"}},
                      "y": {"datum": 0.5, "type": "quantitative", "scale": {"domain": [0, 1], "nice": false, "zero": false}, "axis": {"title": null}}}},
        {"data": {"name": "curves"}, "transform": [{"filter": "datum.panel == 1"}], "mark": {"type": "line", "strokeWidth": 0.8},
         "encoding": {"x": {"field": "pos", "type": "quantitative", "scale": {"domain": [30, 8500], "nice": false, "zero": false}, "axis": {"values": [58,761,1464,2167,2870,3573,4276,4979,5682,6385,7088,7791,8494], "labels": false, "domain": false, "tickSize": -3, "title": null, "orient": "bottom"}},
                      "y": {"field": "value", "type": "quantitative", "scale": {"domain": [0, 1], "nice": false, "zero": false}, "axis": {"title": null}},
                      "color": {"field": "series", "type": "nominal", "scale": {"domain": ["b", "a"], "range": ["#9a9a9a", "#1a1a1a"]}, "legend": null}}}
      ],
      "resolve": {"axis": {"x": "independent"}}
    },
    {
      "width": 482, "height": 98,
      "layer": [
        {"data": {"name": "shade"}, "mark": {"type": "rect", "color": "#c4c4c4"},
         "encoding": {"x": {"field": "x1", "type": "quantitative", "scale": {"domain": [30, 8500], "nice": false, "zero": false}, "axis": null}, "x2": {"field": "x2"},
                      "y": {"field": "y1", "type": "quantitative", "scale": {"domain": [0, 1], "nice": false, "zero": false}, "axis": {"title": "Direct Sequence"}}, "y2": {"field": "y2"}}},
        {"data": {"name": "stops"}, "transform": [{"filter": "datum.panel == 2"}], "mark": {"type": "tick", "orient": "vertical", "color": "#999999", "size": 4, "thickness": 1},
         "encoding": {"x": {"field": "pos", "type": "quantitative", "scale": {"domain": [30, 8500], "nice": false, "zero": false}, "axis": {"values": [1000,2000,3000,4000,5000,6000,7000,8000], "format": "d", "tickSize": -7, "labelPadding": 11, "labelOverlap": false, "labelFlush": false, "title": null, "orient": "bottom"}},
                      "y": {"datum": 0.5, "type": "quantitative", "scale": {"domain": [0, 1], "nice": false, "zero": false}, "axis": {"title": "Direct Sequence"}}}},
        {"data": {"name": "curves"}, "transform": [{"filter": "datum.panel == 2"}], "mark": {"type": "line", "strokeWidth": 0.8},
         "encoding": {"x": {"field": "pos", "type": "quantitative", "scale": {"domain": [30, 8500], "nice": false, "zero": false}, "axis": {"values": [58,761,1464,2167,2870,3573,4276,4979,5682,6385,7088,7791,8494], "labels": false, "domain": false, "tickSize": -3, "title": null, "orient": "bottom"}},
                      "y": {"field": "value", "type": "quantitative", "scale": {"domain": [0, 1], "nice": false, "zero": false}, "axis": {"title": "Direct Sequence"}},
                      "color": {"field": "series", "type": "nominal", "scale": {"domain": ["b", "a"], "range": ["#9a9a9a", "#1a1a1a"]}, "legend": null}}},
        {"data": {"name": "braces"}, "transform": [{"filter": "datum.panel == 2"}], "mark": {"type": "line", "color": "#777777", "strokeWidth": 0.8, "clip": false},
         "encoding": {"x": {"field": "bx", "type": "quantitative", "scale": {"domain": [30, 8500], "nice": false, "zero": false}, "axis": null},
                      "y": {"field": "by", "type": "quantitative", "scale": {"domain": [0, 1], "nice": false, "zero": false}, "axis": {"title": "Direct Sequence"}},
                      "order": {"field": "i", "type": "quantitative"}}}
      ],
      "resolve": {"axis": {"x": "independent"}}
    },
    {
      "width": 482, "height": 98,
      "layer": [
        {"data": {"name": "stops"}, "transform": [{"filter": "datum.panel == 3"}], "mark": {"type": "tick", "orient": "vertical", "color": "#999999", "size": 4, "thickness": 1},
         "encoding": {"x": {"field": "pos", "type": "quantitative", "scale": {"domain": [30, 8500], "nice": false, "zero": false}, "axis": {"values": [1000,2000,3000,4000,5000,6000,7000,8000], "format": "d", "tickSize": -7, "labelPadding": 11, "labelOverlap": false, "labelFlush": false, "title": null, "orient": "bottom"}},
                      "y": {"datum": 0.5, "type": "quantitative", "scale": {"domain": [0, 1], "nice": false, "zero": false}, "axis": {"title": null}}}},
        {"data": {"name": "curves"}, "transform": [{"filter": "datum.panel == 3"}], "mark": {"type": "line", "strokeWidth": 0.8},
         "encoding": {"x": {"field": "pos", "type": "quantitative", "scale": {"domain": [30, 8500], "nice": false, "zero": false}, "axis": {"values": [58,761,1464,2167,2870,3573,4276,4979,5682,6385,7088,7791,8494], "labels": false, "domain": false, "tickSize": -3, "title": null, "orient": "bottom"}},
                      "y": {"field": "value", "type": "quantitative", "scale": {"domain": [0, 1], "nice": false, "zero": false}, "axis": {"title": null}},
                      "color": {"field": "series", "type": "nominal", "scale": {"domain": ["b", "a"], "range": ["#9a9a9a", "#1a1a1a"]}, "legend": null}}}
      ],
      "resolve": {"axis": {"x": "independent"}}
    },
    {
      "width": 482, "height": 98,
      "layer": [
        {"data": {"name": "stops"}, "transform": [{"filter": "datum.panel == 4"}], "mark": {"type": "tick", "orient": "vertical", "color": "#999999", "size": 4, "thickness": 1},
         "encoding": {"x": {"field": "pos", "type": "quantitative", "scale": {"domain": [30, 8500], "nice": false, "zero": false}, "axis": {"values": [1000,2000,3000,4000,5000,6000,7000,8000], "format": "d", "tickSize": -7, "labelPadding": 11, "labelOverlap": false, "labelFlush": false, "title": null, "orient": "bottom"}},
                      "y": {"datum": 0.5, "type": "quantitative", "scale": {"domain": [0, 1], "nice": false, "zero": false}, "axis": {"title": null}}}},
        {"data": {"name": "curves"}, "transform": [{"filter": "datum.panel == 4"}], "mark": {"type": "line", "strokeWidth": 0.8},
         "encoding": {"x": {"field": "pos", "type": "quantitative", "scale": {"domain": [30, 8500], "nice": false, "zero": false}, "axis": {"values": [58,761,1464,2167,2870,3573,4276,4979,5682,6385,7088,7791,8494], "labels": false, "domain": false, "tickSize": -3, "title": null, "orient": "bottom"}},
                      "y": {"field": "value", "type": "quantitative", "scale": {"domain": [0, 1], "nice": false, "zero": false}, "axis": {"title": null}},
                      "color": {"field": "series", "type": "nominal", "scale": {"domain": ["b", "a"], "range": ["#9a9a9a", "#1a1a1a"]}, "legend": null}}}
      ],
      "resolve": {"axis": {"x": "independent"}}
    },
    {
      "width": 482, "height": 98,
      "layer": [
        {"data": {"name": "stops"}, "transform": [{"filter": "datum.panel == 5"}], "mark": {"type": "tick", "orient": "vertical", "color": "#999999", "size": 4, "thickness": 1},
         "encoding": {"x": {"field": "pos", "type": "quantitative", "scale": {"domain": [30, 8500], "nice": false, "zero": false}, "axis": {"values": [1000,2000,3000,4000,5000,6000,7000,8000], "format": "d", "tickSize": -7, "labelPadding": 11, "labelOverlap": false, "labelFlush": false, "title": null, "orient": "bottom"}},
                      "y": {"datum": 0.5, "type": "quantitative", "scale": {"domain": [0, 1], "nice": false, "zero": false}, "axis": {"title": "Complementary Sequence"}}}},
        {"data": {"name": "curves"}, "transform": [{"filter": "datum.panel == 5"}], "mark": {"type": "line", "strokeWidth": 0.8},
         "encoding": {"x": {"field": "pos", "type": "quantitative", "scale": {"domain": [30, 8500], "nice": false, "zero": false}, "axis": {"values": [58,761,1464,2167,2870,3573,4276,4979,5682,6385,7088,7791,8494], "labels": false, "domain": false, "tickSize": -3, "title": null, "orient": "bottom"}},
                      "y": {"field": "value", "type": "quantitative", "scale": {"domain": [0, 1], "nice": false, "zero": false}, "axis": {"title": "Complementary Sequence"}},
                      "color": {"field": "series", "type": "nominal", "scale": {"domain": ["b", "a"], "range": ["#9a9a9a", "#1a1a1a"]}, "legend": null}}},
        {"data": {"name": "braces"}, "transform": [{"filter": "datum.panel == 5"}], "mark": {"type": "line", "color": "#777777", "strokeWidth": 0.8, "clip": false},
         "encoding": {"x": {"field": "bx", "type": "quantitative", "scale": {"domain": [30, 8500], "nice": false, "zero": false}, "axis": null},
                      "y": {"field": "by", "type": "quantitative", "scale": {"domain": [0, 1], "nice": false, "zero": false}, "axis": {"title": "Complementary Sequence"}},
                      "order": {"field": "i", "type": "quantitative"}}}
      ],
      "resolve": {"axis": {"x": "independent"}}
    },
    {
      "width": 482, "height": 98,
      "layer": [
        {"data": {"name": "stops"}, "transform": [{"filter": "datum.panel == 6"}], "mark": {"type": "tick", "orient": "vertical", "color": "#999999", "size": 4, "thickness": 1},
         "encoding": {"x": {"field": "pos", "type": "quantitative", "scale": {"domain": [30, 8500], "nice": false, "zero": false}, "axis": {"values": [1000,2000,3000,4000,5000,6000,7000,8000], "format": "d", "tickSize": -7, "labelPadding": 11, "labelOverlap": false, "labelFlush": false, "title": "Nucleotide Position", "titlePadding": 6, "orient": "bottom"}},
                      "y": {"datum": 0.5, "type": "quantitative", "scale": {"domain": [0, 1], "nice": false, "zero": false}, "axis": {"title": null}}}},
        {"data": {"name": "curves"}, "transform": [{"filter": "datum.panel == 6"}], "mark": {"type": "line", "strokeWidth": 0.8},
         "encoding": {"x": {"field": "pos", "type": "quantitative", "scale": {"domain": [30, 8500], "nice": false, "zero": false}, "axis": {"values": [58,761,1464,2167,2870,3573,4276,4979,5682,6385,7088,7791,8494], "labels": false, "domain": false, "tickSize": -3, "title": null, "orient": "bottom"}},
                      "y": {"field": "value", "type": "quantitative", "scale": {"domain": [0, 1], "nice": false, "zero": false}, "axis": {"title": null}},
                      "color": {"field": "series", "type": "nominal", "scale": {"domain": ["b", "a"], "range": ["#9a9a9a", "#1a1a1a"]}, "legend": null}}}
      ],
      "resolve": {"axis": {"x": "independent"}}
    }
  ]
}
